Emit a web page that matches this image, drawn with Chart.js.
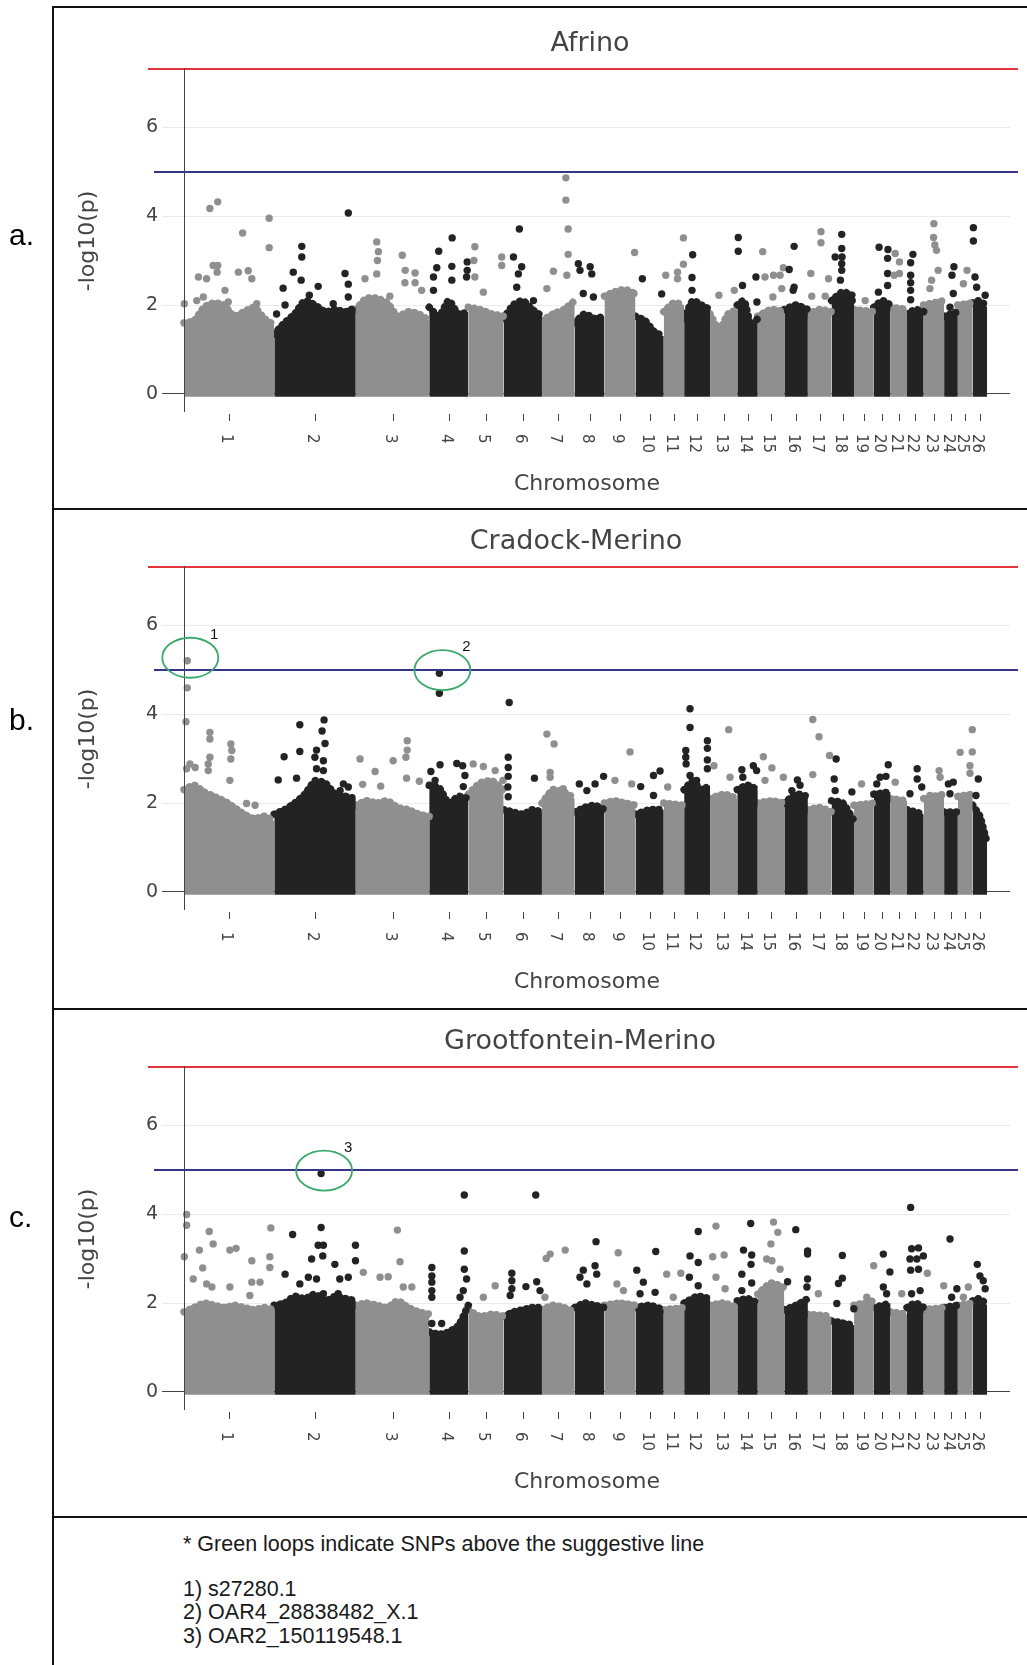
<!DOCTYPE html>
<html>
<head>
<meta charset="utf-8">
<title>Manhattan plots - Afrino, Cradock-Merino, Grootfontein-Merino</title>
<script src="https://cdn.jsdelivr.net/npm/chart.js@4.4.1/dist/chart.umd.min.js"></script>
<style>
  html, body { margin: 0; padding: 0; background: #fff; }
  #page { position: relative; width: 1027px; height: 1665px; overflow: hidden; background: #fff; }
  #page canvas { position: absolute; left: 0; }
  .rule-v { position: absolute; left: 52px; top: 6px; width: 2px; bottom: 0; background: #111; }
  .rule-h { position: absolute; left: 52px; right: 0; height: 2px; background: #111; }
  .tag { position: absolute; left: 9px; font: 30px "Liberation Sans", Arial, sans-serif; color: #000; line-height: 1; }
  .note { position: absolute; left: 183px; font: 21.5px "Liberation Sans", Arial, sans-serif; color: #1a1a1a; line-height: 1; white-space: nowrap; }
</style>
</head>
<body>
<div id="page">
  <canvas id="afrino" width="1027" height="500" style="top:8px"></canvas>
  <canvas id="cradock" width="1027" height="500" style="top:506px"></canvas>
  <canvas id="groot" width="1027" height="500" style="top:1006px"></canvas>

  <div class="rule-h" style="top:6px"></div>
  <div class="rule-h" style="top:508px"></div>
  <div class="rule-h" style="top:1008px"></div>
  <div class="rule-h" style="top:1516px"></div>
  <div class="rule-v"></div>

  <div class="tag" style="top:220px">a.</div>
  <div class="tag" style="top:705px">b.</div>
  <div class="tag" style="top:1202px">c.</div>

  <div class="note" style="top:1534px">* Green loops indicate SNPs above the suggestive line</div>
  <div class="note" style="top:1579px">1) s27280.1</div>
  <div class="note" style="top:1602px">2) OAR4_28838482_X.1</div>
  <div class="note" style="top:1626px">3) OAR2_150119548.1</div>
</div>

<script>
// ---------- genome layout (Mb, sheep autosomes) ----------
const chromLabels = ['1','2','3','4','5','6','7','8','9','10','11','12','13',
  '14','15','16','17','18','19','20','21','22','23','24','25','26'];
const chromLengths = [275.6, 248.9, 224.2, 119.3, 107.9, 117.0, 100.1, 90.7, 94.7, 86.4,
  62.2, 79.1, 83.1, 62.7, 80.9, 72.0, 72.3, 68.6, 60.5, 51.2, 50.1, 51.0, 62.2, 42.0, 45.4, 44.0];

const yTicks = [0, 2, 4, 6];
const genomeWideLine = 7.3;
const suggestiveLine = 5;

// ---------- dense SNP band: top of the solid cloud per chromosome ----------
const afrinoBody = [
  [1.6, 1.65, 1.95, 2.05, 2.0, 1.75, 1.85, 1.95, 1.7, 1.55],
  [1.35, 1.6, 1.8, 2.1, 2.0, 1.85, 1.9, 1.85, 1.95],
  [1.9, 2.15, 2.15, 2.05, 1.75, 1.85, 1.8, 1.65],
  [1.95, 1.75, 2.1, 1.8, 1.85],
  [1.95, 1.9, 1.8, 1.75],
  [1.7, 2.0, 2.1, 1.9, 1.75],
  [1.65, 1.8, 1.9, 2.1],
  [1.6, 1.8, 1.7, 1.75],
  [2.2, 2.3, 2.35, 2.25],
  [1.75, 1.65, 1.4, 1.3],
  [1.85, 2.05, 2.0],
  [1.7, 2.1, 2.0, 1.9],
  [1.8, 1.45, 1.8, 1.9],
  [2.0, 2.1, 1.55, 1.7],
  [1.75, 1.9, 1.85],
  [1.9, 2.0, 1.9],
  [1.8, 1.9, 1.85],
  [2.1, 2.3, 2.2],
  [1.9, 1.85],
  [1.95, 2.1, 2.0],
  [1.95, 1.9],
  [1.8, 1.9, 1.85],
  [2.0, 2.1],
  [1.75, 1.85],
  [2.0, 2.05],
  [2.05, 2.1, 1.95]
];

const cradockBody = [
  [2.3, 2.4, 2.25, 2.15, 2.05, 1.9, 1.75, 1.65, 1.7, 1.6],
  [1.75, 1.85, 2.0, 2.2, 2.5, 2.45, 2.2, 2.15, 2.1],
  [1.95, 2.05, 2.0, 2.05, 1.9, 1.85, 1.75, 1.7],
  [2.4, 2.35, 2.0, 2.15, 2.1],
  [2.2, 2.45, 2.5, 2.3],
  [1.85, 1.8, 1.75, 1.85, 1.8],
  [2.0, 2.3, 2.25, 2.1],
  [1.8, 1.9, 1.95, 1.85],
  [2.0, 2.05, 2.0, 1.95],
  [1.75, 1.85, 1.85],
  [2.0, 1.95],
  [2.3, 2.5, 2.3, 2.4],
  [2.1, 2.2, 2.1],
  [2.3, 2.4, 2.3],
  [2.0, 2.05, 2.0],
  [2.0, 2.2, 2.15],
  [1.85, 1.9, 1.8],
  [2.05, 2.0, 1.6],
  [1.95, 2.0],
  [2.2, 2.25],
  [2.1, 2.05],
  [1.85, 1.75],
  [2.1, 2.2],
  [1.8, 1.8],
  [2.15, 2.2],
  [1.95, 1.7, 1.1]
];

const grootBody = [
  [1.8, 1.9, 2.0, 1.95, 1.9, 1.95, 1.9, 1.85, 1.9, 1.85],
  [1.95, 2.0, 2.15, 2.1, 2.2, 2.05, 2.15, 2.1, 2.05],
  [1.95, 2.0, 1.95, 1.9, 2.05, 1.9, 1.8, 1.75],
  [1.35, 1.3, 1.35, 1.5, 1.95],
  [1.85, 1.7, 1.75, 1.7],
  [1.7, 1.8, 1.85, 1.9, 1.9],
  [1.85, 1.95, 1.9, 1.8],
  [1.9, 2.0, 1.95, 1.9],
  [1.95, 2.0, 1.95],
  [1.9, 1.95, 1.85],
  [1.85, 1.9],
  [2.0, 2.15, 2.1],
  [1.95, 2.0, 1.9],
  [2.05, 2.1, 2.0],
  [2.2, 2.45, 2.35],
  [1.85, 1.95, 2.1],
  [1.75, 1.7],
  [1.6, 1.55, 1.5],
  [1.95, 2.05],
  [1.9, 2.0],
  [1.8, 1.75],
  [1.9, 2.0, 1.9],
  [1.85, 1.9],
  [1.9, 1.95],
  [1.95, 2.0],
  [2.05, 2.1, 1.95]
];

// ---------- individual SNPs above the band: [chromosome, position Mb, -log10(p)] ----------
const afrinoDots = [
  [1,1,2.03],[1,44,2.63],[1,69,2.59],[1,79,4.17],[1,103,4.32],[1,103,2.89],[1,101,2.74],[1,125,2.33],
  [1,166,2.74],[1,196,2.77],[1,179,3.62],[1,260,3.95],[1,260,3.29],[1,207,2.59],[1,39,2.1],[1,59,2.18],
  [1,135,2.07],[1,222,2.03],[1,89,2.89],
  [2,27,2.38],[2,58,2.74],[2,84,3.32],[2,84,3.08],[2,82,2.56],[2,33,2.0],[2,134,2.42],[2,107,2.22],
  [2,180,2.03],[2,216,2.71],[2,226,2.47],[2,226,4.07],[2,226,2.18],[2,7,1.8],
  [3,64,3.42],[3,69,3.2],[3,66,3.0],[3,64,2.7],[3,28,2.59],[3,142,3.12],[3,151,2.78],[3,181,2.72],
  [3,150,2.5],[3,181,2.5],[3,104,2.2],[3,201,2.33],
  [4,29,3.21],[4,23,2.84],[4,13,2.63],[4,13,2.33],[4,70,3.51],[4,69,2.87],[4,69,2.56],[4,116,2.97],
  [4,116,2.78],[4,114,2.63],
  [5,20,3.31],[5,17,3.0],[5,20,2.63],[5,46,2.29],[5,102,3.08],[5,102,2.89],
  [6,48,3.71],[6,30,3.08],[6,55,2.86],[6,45,2.7],[6,40,2.4],[6,91,2.1],
  [7,73,4.86],[7,73,4.36],[7,80,3.71],[7,80,3.14],[7,35,2.76],[7,76,2.67],[7,15,2.37],
  [8,11,2.93],[8,47,2.86],[8,16,2.78],[8,26,2.26],[8,57,2.18],[8,52,2.7],
  [9,92,3.18],[9,90,2.26],
  [10,21,2.59],[10,80,2.25],
  [11,6,2.67],[11,42,2.59],[11,42,2.74],[11,60,3.51],[11,60,2.92],
  [12,26,3.13],[12,24,2.62],[12,24,2.33],
  [13,27,2.22],[13,74,2.33],
  [14,3,3.52],[14,3,3.21],[14,16,2.44],[14,57,2.63],[14,60,2.07],
  [15,15,3.2],[15,22,2.63],[15,48,2.67],[15,68,2.67],[15,78,2.84],[15,73,2.37],[15,46,2.18],
  [16,30,3.32],[16,15,2.8],[16,30,2.4],[16,27,2.33],
  [17,40,3.65],[17,40,3.4],[17,9,2.71],[17,63,2.59],[17,12,2.2],[17,53,2.2],
  [18,31,3.59],[18,31,3.27],[18,32,3.08],[18,31,2.93],[18,31,2.78],[18,27,2.56],[18,11,3.08],[18,63,2.1],
  [19,34,2.1],
  [20,16,3.3],[20,43,3.25],[20,42,3.05],[20,42,2.71],[20,42,2.44],[20,14,2.29],
  [21,14,3.16],[21,27,2.97],[21,27,2.71],[21,11,2.67],
  [22,18,3.14],[22,11,2.95],[22,11,2.67],[22,11,2.5],[22,11,2.33],[22,11,2.12],
  [23,31,3.83],[23,30,3.52],[23,34,3.35],[23,39,3.23],[23,44,2.78],[23,24,2.56],[23,19,2.37],
  [24,30,2.86],[24,24,2.67],[24,28,2.26],[24,18,1.95],
  [25,28,2.78],[25,17,2.48],
  [26,2,3.74],[26,2,3.44],[26,7,2.63],[26,12,2.4],[26,38,2.22],[26,32,2.03]
];

const cradockDots = [
  [1,10,4.59],[1,6,3.83],[1,79,3.59],[1,79,3.44],[1,79,3.03],[1,74,2.88],[1,74,2.73],[1,143,3.33],
  [1,146,3.18],[1,143,2.99],[1,140,2.51],[1,18,2.88],[1,34,2.8],[1,8,2.77],[1,191,1.99],[1,217,1.95],
  [2,78,3.76],[2,152,3.87],[2,146,3.62],[2,155,3.34],[2,129,3.19],[2,30,3.04],[2,78,3.16],[2,124,3.03],
  [2,150,2.95],[2,129,2.77],[2,150,2.73],[2,12,2.52],[2,68,2.56],[2,211,2.43],[2,226,2.36],[2,201,2.28],
  [3,13,2.99],[3,114,2.95],[3,157,3.4],[3,157,3.19],[3,153,3.03],[3,59,2.71],[3,21,2.42],[3,76,2.38],
  [3,155,2.56],[3,194,2.49],
  [4,31,4.47],[4,33,2.86],[4,5,2.71],[4,84,2.89],[4,102,2.84],[4,109,2.62],[4,104,2.37],[4,18,2.51],[4,13,2.36],
  [5,15,2.88],[5,46,2.82],[5,82,2.73],[5,106,2.51],
  [6,17,4.26],[6,14,3.03],[6,14,2.8],[6,14,2.6],[6,13,2.36],[6,14,2.14],[6,94,2.56],
  [7,15,3.55],[7,37,3.33],[7,25,2.69],[7,25,2.58],[7,65,2.32],
  [8,14,2.43],[8,37,2.28],[8,62,2.43],[8,88,2.6],
  [9,78,3.15],[9,32,2.51],[9,83,2.43],
  [10,16,2.37],[10,55,2.62],[10,75,2.72],[10,55,2.17],
  [11,12,2.36],
  [12,18,4.12],[12,18,3.7],[12,5,3.18],[12,5,3.03],[12,6,2.88],[12,71,3.4],[12,71,3.23],[12,71,2.97],
  [12,71,2.77],[12,18,2.62],[12,38,2.51],
  [13,57,3.65],[13,12,2.84],[13,61,2.58],
  [14,14,2.75],[14,17,2.58],[14,49,2.84],[14,59,2.73],
  [15,17,3.04],[15,43,2.79],[15,22,2.51],[15,78,2.58],
  [16,40,2.52],[16,23,2.28],[16,48,2.4],
  [17,15,3.88],[17,34,3.49],[17,66,3.07],[17,15,2.64],
  [18,14,2.99],[18,8,2.54],[18,11,2.28],[18,62,2.25],
  [19,23,2.43],
  [20,44,2.86],[20,19,2.58],[20,37,2.6],[20,9,2.43],
  [21,14,2.47],
  [22,31,2.77],[22,31,2.54],[22,45,2.36],[22,9,2.21],
  [23,47,2.73],[23,50,2.58],[23,19,2.17],
  [24,13,2.43],[24,28,2.47],[24,18,2.21],
  [25,7,3.14],[25,44,3.65],[25,44,3.15],[25,37,2.84],[25,37,2.67],
  [26,17,2.54],[26,10,2.17]
];

const grootDots = [
  [1,8,3.99],[1,8,3.75],[1,1,3.04],[1,77,3.61],[1,89,3.33],[1,47,3.19],[1,140,3.19],[1,159,3.23],
  [1,57,2.79],[1,28,2.54],[1,69,2.43],[1,85,2.36],[1,207,2.95],[1,265,3.69],[1,262,3.04],[1,262,2.8],
  [1,207,2.47],[1,232,2.47],[1,140,2.36],[1,201,2.17],
  [2,143,3.7],[2,56,3.54],[2,134,3.3],[2,150,3.3],[2,148,3.06],[2,114,2.99],[2,185,2.87],[2,248,3.3],
  [2,248,2.95],[2,33,2.65],[2,78,2.43],[2,104,2.58],[2,129,2.54],[2,200,2.54],[2,226,2.58],[2,150,2.21],[2,195,2.21],
  [3,127,3.64],[3,135,2.93],[3,23,2.69],[3,74,2.58],[3,99,2.59],[3,145,2.36],[3,171,2.36],
  [4,8,2.8],[4,8,2.61],[4,8,2.47],[4,8,2.28],[4,8,2.13],[4,8,1.54],[4,38,1.54],[4,107,4.43],[4,107,3.17],
  [4,107,2.76],[4,114,2.54],[4,104,2.28],[4,94,2.13],
  [5,82,2.39],[5,46,2.13],
  [6,98,4.43],[6,25,2.67],[6,25,2.5],[6,25,2.32],[6,20,2.17],[6,68,2.37],[6,101,2.48],[6,111,2.28],
  [7,13,3.0],[7,25,3.1],[7,71,3.19],[7,9,2.13],
  [8,65,3.38],[8,26,2.74],[8,62,2.84],[8,16,2.58],[8,37,2.43],[8,67,2.65],
  [9,42,3.13],[9,38,2.43],[9,58,2.28],
  [10,62,3.16],[10,4,2.74],[10,24,2.47],[10,14,2.21],[10,60,2.24],
  [11,9,2.65],[11,52,2.67],[11,29,2.13],
  [12,43,3.61],[12,18,3.06],[12,43,2.91],[12,16,2.58],[12,43,2.39],
  [13,18,3.73],[13,43,3.08],[13,8,3.04],[13,18,2.58],[13,46,2.32],
  [14,41,3.79],[14,19,3.19],[14,44,3.08],[14,42,2.87],[14,14,2.65],[14,44,2.45],[14,14,2.28],
  [15,48,3.82],[15,61,3.59],[15,40,3.33],[15,27,2.99],[15,43,2.95],[15,68,2.76],
  [16,35,3.65],[16,71,3.17],[16,71,3.1],[16,10,2.48],[16,71,2.54],[16,69,2.36],
  [17,32,2.21],
  [18,33,3.07],[18,33,2.56],[18,21,2.44],[18,16,1.99],[18,68,1.87],
  [19,60,2.84],[19,39,2.13],
  [20,29,3.1],[20,49,2.7],[20,29,2.36],[20,39,2.21],
  [21,34,2.21],
  [22,11,4.15],[22,14,3.22],[22,35,3.24],[22,9,2.99],[22,30,2.99],[22,50,3.06],[22,11,2.74],[22,35,2.76],
  [22,14,2.21],[22,40,2.28],
  [23,11,2.67],[23,61,2.39],
  [24,18,3.44],[24,39,2.32],[24,23,2.13],
  [25,32,2.36],[25,17,2.13],
  [26,14,2.87],[26,22,2.61],[26,32,2.5],[26,38,2.32]
];

// SNPs circled in green: [chromosome, position Mb, -log10(p), footnote number]
const cradockHits = [[1, 10, 5.2, '1'], [4, 31, 4.92, '2']];
const grootHits = [[2, 143, 4.91, '3']];

// ---------- helpers ----------
const GREY = '#8f8f8f';
const DARK = '#232323';
const FONT = "'DejaVu Sans', Verdana, sans-serif";

const chromStarts = [];
let acc = 0;
chromLengths.forEach((len) => { chromStarts.push(acc); acc += len; });

const chromColour = (chr) => (chr % 2 === 1 ? GREY : DARK);
const genomePos = (chr, pos) => chromStarts[chr - 1] + pos;

// filled band per chromosome; the dotted round-capped border gives the beaded top edge
function bodyDatasets(body) {
  return body.map((tops, i) => {
    const start = chromStarts[i];
    const step = chromLengths[i] / (tops.length - 1);
    const col = chromColour(i + 1);
    return {
      type: 'line',
      data: tops.map((v, k) => ({ x: start + k * step, y: v })),
      borderColor: col,
      backgroundColor: col,
      borderWidth: 7.5,
      borderDash: [0.01, 6],
      borderJoinStyle: 'round',
      borderCapStyle: 'round',
      tension: 0.2,
      pointRadius: 0,
      fill: { value: -0.06 },
      order: 2
    };
  });
}

function dotDataset(rows) {
  return {
    type: 'scatter',
    data: rows.map(([chr, pos, v]) => ({ x: genomePos(chr, pos), y: v })),
    pointRadius: 3.7,
    pointBorderWidth: 0,
    pointBackgroundColor: rows.map(([chr]) => chromColour(chr)),
    order: 1
  };
}

// thresholds, x zero line, chromosome ticks, titles and green loops
const decor = {
  id: 'decor',
  afterDatasetsDraw(chart, _args, opts) {
    const { ctx, chartArea: area, scales: { x, y } } = chart;
    ctx.save();

    [[genomeWideLine, '#e2343b', 14], [suggestiveLine, '#34348b', 8]].forEach(([v, col, lead]) => {
      const py = Math.round(y.getPixelForValue(v));
      ctx.strokeStyle = col;
      ctx.lineWidth = 2;
      ctx.beginPath();
      ctx.moveTo(area.left - lead, py);
      ctx.lineTo(area.right + 8, py);
      ctx.stroke();
    });

    const x0 = Math.round(x.getPixelForValue(0)) + 0.5;
    ctx.strokeStyle = '#444';
    ctx.lineWidth = 1;
    ctx.beginPath();
    ctx.moveTo(x0, area.top);
    ctx.lineTo(x0, area.bottom - 2);
    ctx.stroke();

    // chromosome ticks, labels turned to read top-down
    ctx.fillStyle = '#444';
    ctx.font = '15px ' + FONT;
    ctx.textAlign = 'left';
    ctx.textBaseline = 'middle';
    chromLabels.forEach((lab, i) => {
      const px = Math.round(x.getPixelForValue(chromStarts[i] + chromLengths[i] / 2)) + 0.5;
      ctx.beginPath();
      ctx.moveTo(px, area.bottom);
      ctx.lineTo(px, area.bottom + 7);
      ctx.stroke();
      ctx.save();
      ctx.translate(px - 4, area.bottom + 20);
      ctx.rotate(Math.PI / 2);
      ctx.fillText(lab, 0, 0);
      ctx.restore();
    });

    ctx.textAlign = 'center';
    ctx.textBaseline = 'alphabetic';
    ctx.font = '22px ' + FONT;
    ctx.fillText('Chromosome', 587, area.bottom + 76);
    ctx.font = '27px ' + FONT;
    ctx.fillText(opts.title, opts.titleX, area.top - 17);

    (opts.hits || []).forEach(([chr, pos, v, lab]) => {
      const px = x.getPixelForValue(genomePos(chr, pos));
      const py = y.getPixelForValue(v);
      ctx.strokeStyle = '#3aa86a';
      ctx.lineWidth = 1.8;
      ctx.beginPath();
      ctx.ellipse(px + 3, py - 3, 28, 20, 0, 0, Math.PI * 2);
      ctx.stroke();
      ctx.fillStyle = '#111';
      ctx.textAlign = 'center';
      ctx.textBaseline = 'middle';
      ctx.font = '15px "Liberation Sans", Arial, sans-serif';
      ctx.fillText(lab, px + 27, py - 26);
    });

    ctx.restore();
  }
};

function makePanel(id, title, titleX, body, dots, hits) {
  return new Chart(document.getElementById(id), {
    type: 'scatter',
    data: {
      datasets: [...bodyDatasets(body), dotDataset(dots), dotDataset(hits)]
    },
    options: {
      responsive: false,
      animation: false,
      events: [],
      layout: { padding: { left: 75, right: 17, top: 60, bottom: 94 } },
      plugins: {
        legend: { display: false },
        tooltip: { enabled: false },
        decor: { title, titleX, hits }
      },
      scales: {
        x: { type: 'linear', display: false, min: -67.2, max: 2521.9 },
        y: {
          type: 'linear',
          min: -0.45,
          max: 7.33,
          afterBuildTicks: (s) => { s.ticks = yTicks.map((v) => ({ value: v })); },
          afterFit: (s) => { s.width = 87; },
          border: { display: false },
          grid: {
            drawTicks: false,
            lineWidth: 1,
            color: (c) => (c.tick && c.tick.value === 0 ? '#444' : '#ebebeb')
          },
          ticks: { color: '#444', padding: 4, font: { family: FONT, size: 19 } },
          title: {
            display: true,
            text: '-log10(p)',
            color: '#444',
            padding: { top: 0, bottom: 0 },
            font: { family: FONT, size: 22 }
          }
        }
      }
    },
    plugins: [decor]
  });
}

makePanel('afrino', 'Afrino', 590, afrinoBody, afrinoDots, []);
makePanel('cradock', 'Cradock-Merino', 576, cradockBody, cradockDots, cradockHits);
makePanel('groot', 'Grootfontein-Merino', 580, grootBody, grootDots, grootHits);
</script>
</body>
</html>
